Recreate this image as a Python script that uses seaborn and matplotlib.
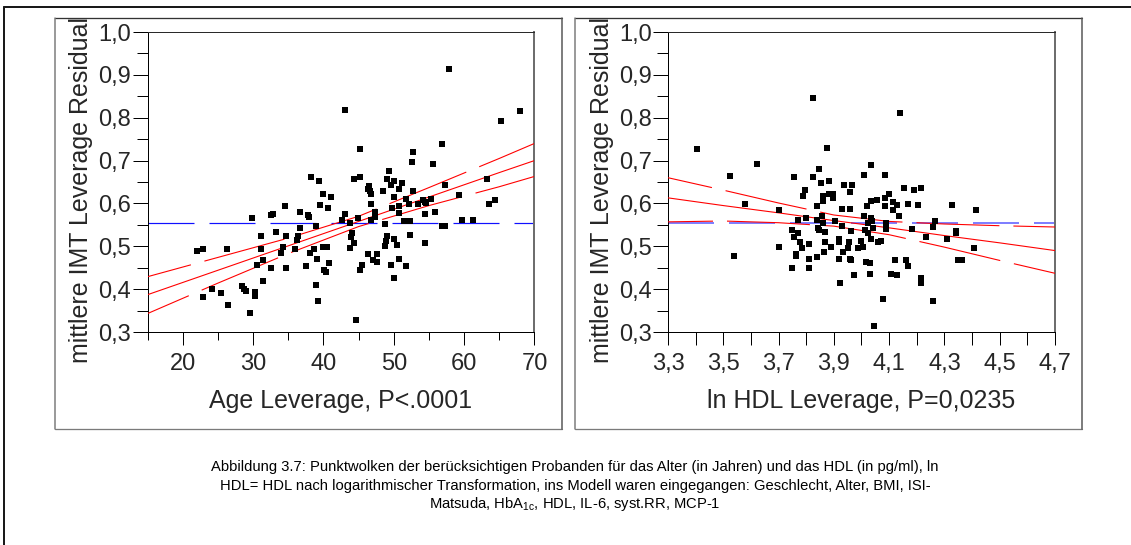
import numpy as np
import pandas as pd
import seaborn as sns
import matplotlib
matplotlib.use("Agg")
import matplotlib.pyplot as plt
from matplotlib.lines import Line2D
from matplotlib.ticker import FixedLocator, MultipleLocator

# ---------------- data ----------------
age_x = [22.1, 22.9, 22.9, 24.1, 25.4, 26.3, 26.5, 28.4, 28.7, 29.0, 29.5, 29.8, 30.3, 30.3,
         30.6, 31.2, 31.2, 31.4, 31.4, 32.5, 32.8, 32.5, 33.3, 34.5, 34.7, 34.7, 34.0, 34.2,
         35.9, 36.2, 36.4, 36.7, 36.7, 37.5, 37.8, 37.9, 38.3, 38.1, 38.6, 38.9, 39.1, 38.9,
         39.2, 39.4, 39.5, 40.0, 40.0, 40.5, 40.1, 40.3, 40.7, 40.8, 41.1,
         42.6, 43.0, 43.0, 43.8, 43.8, 43.9, 44.1, 44.4, 44.4, 44.6, 44.9, 45.2, 45.2, 45.2,
         45.5, 46.3, 46.3, 46.5, 46.6, 46.8, 46.8, 46.8, 47.1, 47.3, 47.3, 47.6, 47.6, 48.5,
         48.8, 48.8, 48.9, 49.0, 49.3, 49.1, 49.6, 50.1, 49.6, 49.8, 50.1, 50.1, 50.4, 50.1,
         50.7, 50.7, 50.8, 50.7, 51.2, 51.5, 52.3, 51.8, 52.1, 51.8, 52.3, 52.6, 52.8, 52.8,
         53.4, 54.2, 54.4, 54.6, 54.5, 54.5, 55.3, 55.6, 55.8, 56.9, 56.9, 57.3, 57.3, 57.8,
         59.2, 59.7, 61.3, 63.3, 63.6, 64.4, 65.2, 67.9]
age_y = [0.490, 0.494, 0.382, 0.400, 0.390, 0.494, 0.363, 0.407, 0.400, 0.395, 0.345, 0.566, 0.393, 0.385,
         0.457, 0.525, 0.494, 0.467, 0.418, 0.572, 0.576, 0.449, 0.534, 0.593, 0.525, 0.449, 0.485, 0.499,
         0.494, 0.514, 0.523, 0.543, 0.580, 0.453, 0.573, 0.569, 0.662, 0.485, 0.494, 0.548, 0.471, 0.409,
         0.373, 0.652, 0.597, 0.621, 0.499, 0.499, 0.445, 0.440, 0.589, 0.462, 0.615,
         0.562, 0.575, 0.819, 0.495, 0.555, 0.522, 0.531, 0.508, 0.657, 0.327, 0.566, 0.728, 0.661, 0.444,
         0.457, 0.481, 0.633, 0.640, 0.629, 0.621, 0.598, 0.562, 0.469, 0.580, 0.569, 0.481, 0.463, 0.629,
         0.553, 0.500, 0.512, 0.524, 0.675, 0.656, 0.643, 0.652, 0.457, 0.590, 0.615, 0.516, 0.503, 0.426,
         0.634, 0.594, 0.578, 0.471, 0.648, 0.558, 0.558, 0.611, 0.598, 0.453, 0.526, 0.697, 0.719, 0.630,
         0.598, 0.607, 0.604, 0.601, 0.576, 0.508, 0.611, 0.693, 0.580, 0.738, 0.548, 0.548, 0.643, 0.914,
         0.620, 0.562, 0.562, 0.657, 0.598, 0.607, 0.792, 0.815]

hdl_x = [3.405, 3.524, 3.539, 3.580, 3.622, 3.700, 3.700, 3.749, 3.749, 3.756, 3.756, 3.762, 3.762,
         3.772, 3.770, 3.776, 3.786, 3.790, 3.797, 3.799, 3.811, 3.811, 3.811, 3.826, 3.826, 3.840,
         3.840, 3.843, 3.846, 3.848, 3.855, 3.856, 3.860, 3.865, 3.860, 3.862, 3.840, 3.868, 3.868,
         3.876, 3.882, 3.896, 3.883, 3.889, 3.896, 3.903, 3.917, 3.919, 3.919, 3.924, 3.930, 3.931,
         3.937, 3.934, 3.950, 3.954, 3.959, 3.959, 3.961, 3.960, 3.961, 3.966, 3.973, 3.987, 4.000,
         4.006, 4.010, 4.010, 4.012, 4.016, 4.020, 4.024, 4.025, 4.029, 4.029, 4.036, 4.034, 4.036,
         4.038, 4.040, 4.034, 4.046, 4.056, 4.060,
         4.070, 4.077, 4.086, 4.085, 4.085, 4.087, 4.087, 4.100, 4.107, 4.113, 4.113, 4.120, 4.127,
         4.127, 4.135, 4.141, 4.155, 4.161, 4.168, 4.168, 4.182, 4.190, 4.203, 4.217, 4.217, 4.217,
         4.232, 4.260, 4.260, 4.267, 4.308, 4.329, 4.343, 4.343, 4.350, 4.364, 4.407, 4.413]
hdl_y = [0.726, 0.663, 0.477, 0.598, 0.693, 0.585, 0.499, 0.537, 0.450, 0.662, 0.522, 0.482, 0.478,
         0.531, 0.562, 0.510, 0.495, 0.617, 0.631, 0.567, 0.506, 0.471, 0.450, 0.847, 0.662, 0.594,
         0.562, 0.543, 0.539, 0.680, 0.648, 0.570, 0.555, 0.486, 0.617, 0.605, 0.476, 0.510, 0.534,
         0.730, 0.621, 0.621, 0.653, 0.499, 0.612, 0.558, 0.516, 0.510, 0.471, 0.414, 0.587, 0.547,
         0.644, 0.486, 0.495, 0.510, 0.627, 0.587, 0.535, 0.471, 0.467, 0.644, 0.432, 0.495, 0.513,
         0.499, 0.667, 0.570, 0.539, 0.464, 0.594, 0.531, 0.555, 0.460, 0.436, 0.689, 0.605, 0.566,
         0.559, 0.543, 0.516, 0.315, 0.609, 0.510,
         0.513, 0.377, 0.666, 0.613, 0.594, 0.555, 0.541, 0.621, 0.436, 0.603, 0.585, 0.467, 0.597,
         0.432, 0.570, 0.811, 0.635, 0.467, 0.599, 0.453, 0.541, 0.631, 0.597, 0.635, 0.426, 0.414,
         0.522, 0.545, 0.373, 0.558, 0.518, 0.597, 0.535, 0.531, 0.468, 0.468, 0.495, 0.585]

# fitted line and confidence curves
age_line_x = [15, 25, 35, 45, 55, 65, 70]
age_fit = [0.387, 0.444, 0.501, 0.558, 0.615, 0.672, 0.700]
age_upper = [0.429, 0.474, 0.519, 0.570, 0.637, 0.705, 0.740]
age_lower = [0.343, 0.414, 0.483, 0.546, 0.595, 0.639, 0.663]
age_mean = 0.555

hdl_line_x = [3.3, 3.5, 3.7, 3.9, 4.1, 4.3, 4.5, 4.7]
hdl_fit = [0.613, 0.595, 0.578, 0.560, 0.543, 0.525, 0.508, 0.490]
hdl_upper = [0.660, 0.631, 0.601, 0.573, 0.558, 0.552, 0.548, 0.545]
hdl_lower = [0.557, 0.559, 0.555, 0.547, 0.527, 0.498, 0.467, 0.437]
hdl_mean = 0.555

y_ticks = [0.3, 0.4, 0.5, 0.6, 0.7, 0.8, 0.9, 1.0]
y_ticklabels = ["0,3", "0,4", "0,5", "0,6", "0,7", "0,8", "0,9", "1,0"]
age_ticks = [20, 30, 40, 50, 60, 70]
age_ticklabels = ["20", "30", "40", "50", "60", "70"]
hdl_ticks = [3.3, 3.5, 3.7, 3.9, 4.1, 4.3, 4.5, 4.7]
hdl_ticklabels = ["3,3", "3,5", "3,7", "3,9", "4,1", "4,3", "4,5", "4,7"]

y_label = "mittlere IMT Leverage Residual"
age_label = "Age Leverage, P<.0001"
hdl_label = "ln HDL Leverage, P=0,0235"
caption = [
    "Abbildung 3.7: Punktwolken der berücksichtigen Probanden für das Alter (in Jahren) und das HDL (in pg/ml), ln",
    "HDL= HDL nach logarithmischer Transformation, ins Modell waren eingegangen: Geschlecht, Alter, BMI, ISI-",
    "Matsuda, HbA$_{\\mathregular{1c}}$, HDL, IL-6, syst.RR, MCP-1",
]

# ---------------- style ----------------
sns.set_style("white")
plt.rcParams["font.family"] = ["Liberation Sans", "DejaVu Sans"]
plt.rcParams["lines.scale_dashes"] = False
plt.rcParams["mathtext.default"] = "regular"

W, H = 1131, 545
fig = plt.figure(figsize=(W / 100, H / 100), dpi=100)
fig.patch.set_facecolor("white")

def fx(px):
    return px / W

def fy(py):
    return 1 - py / H

PX = 0.72  # points per pixel

# outer frame (left and top edges visible)
fig.add_artist(Line2D([fx(3.5), fx(3.5)], [fy(6.5), fy(H + 5)], color="#1a1a1a", lw=2 * PX))
fig.add_artist(Line2D([fx(3.5), fx(W + 5)], [fy(6.5), fy(6.5)], color="#1a1a1a", lw=2 * PX))

# panel boxes
for (l, r) in [(54.5, 562), (574.5, 1082)]:
    t, b = 17.5, 429
    fig.add_artist(Line2D([fx(l), fx(r)], [fy(t), fy(t)], color="#333333", lw=1.3 * PX))
    fig.add_artist(Line2D([fx(l), fx(r)], [fy(b), fy(b)], color="#7a7a7a", lw=1.3 * PX))
    fig.add_artist(Line2D([fx(l), fx(l)], [fy(t), fy(b)], color="#7a7a7a", lw=1.5 * PX))
    fig.add_artist(Line2D([fx(r), fx(r)], [fy(t), fy(b)], color="#555555", lw=1.5 * PX))

ax1 = fig.add_axes([fx(147.5), fy(332), (534.5 - 147.5) / W, 300 / H])
ax2 = fig.add_axes([fx(668), fy(332), (1055 - 668) / W, 300 / H])

blue_dash = (0, (46 * PX, 15 * PX))
ci_dash = (38 * PX, (83 * PX, 14 * PX))

panels = [
    (ax1, age_x, age_y, age_line_x, age_fit, age_upper, age_lower, age_mean, "#1010ff", 1.2,
     (15, 70), age_ticks, age_ticklabels, age_label),
    (ax2, hdl_x, hdl_y, hdl_line_x, hdl_fit, hdl_upper, hdl_lower, hdl_mean, "#7f7fff", 2.0,
     (3.3, 4.7), hdl_ticks, hdl_ticklabels, hdl_label),
]

for (ax, xs, ys, lx, lfit, lup, llo, lmean, bcol, blw, xlim, xt, xtl, xlab) in panels:
    df = pd.DataFrame({"x": xs, "y": ys})
    ldf = pd.DataFrame({"x": lx, "fit": lfit, "up": lup, "lo": llo, "mean": [lmean] * len(lx)})
    ax.set_xlim(*xlim)
    ax.set_ylim(0.3, 1.0)
    sns.lineplot(data=ldf, x="x", y="mean", ax=ax, color=bcol, lw=blw * PX, linestyle=blue_dash, zorder=2)
    sns.lineplot(data=ldf, x="x", y="fit", ax=ax, color="#ff0000", lw=1.1 * PX, zorder=3)
    sns.lineplot(data=ldf, x="x", y="up", ax=ax, color="#ff0000", lw=1.1 * PX, linestyle=ci_dash, zorder=3)
    sns.lineplot(data=ldf, x="x", y="lo", ax=ax, color="#ff0000", lw=1.1 * PX, linestyle=ci_dash, zorder=3)
    sns.scatterplot(data=df, x="x", y="y", ax=ax, marker="s", s=19, color="black",
                    linewidth=0, zorder=4)

    ax.set_yticks(y_ticks)
    ax.set_yticklabels(y_ticklabels)
    ax.yaxis.set_minor_locator(MultipleLocator(0.05))
    ax.set_xticks(xt)
    ax.set_xticklabels(xtl)
    if ax is ax1:
        ax.xaxis.set_minor_locator(FixedLocator([15, 25, 35, 45, 55, 65]))
        ax.tick_params(axis="x", which="major", length=13 * PX, width=1 * PX, pad=6, labelsize=17)
        ax.tick_params(axis="x", which="minor", length=8 * PX, width=1 * PX)
    else:
        ax.xaxis.set_minor_locator(FixedLocator([3.4, 3.6, 3.8, 4.0, 4.2, 4.4, 4.6]))
        ax.tick_params(axis="x", which="major", length=13 * PX, width=1 * PX, pad=6, labelsize=17)
        ax.tick_params(axis="x", which="minor", length=13 * PX, width=1 * PX)
    ax.tick_params(axis="y", which="major", length=15 * PX, width=1 * PX, pad=1, labelsize=17)
    ax.tick_params(axis="y", which="minor", length=11 * PX, width=1 * PX)
    ax.tick_params(which="both", direction="out", color="black", bottom=True, left=True)

    ax.set_ylabel(y_label, fontsize=18)
    ax.yaxis.set_label_coords(-0.14, 0.473)
    ax.set_xlabel(xlab, fontsize=18, va="top")
    ax.xaxis.set_label_coords(0.5, -0.19)

    for s in ["left", "bottom"]:
        ax.spines[s].set_color("black")
        ax.spines[s].set_linewidth(1 * PX)
    ax.spines["top"].set_color("#2a2a2a")
    ax.spines["top"].set_linewidth(1 * PX)
    ax.spines["right"].set_color("#6e6e6e")
    ax.spines["right"].set_linewidth(2 * PX)
    for s in ax.spines.values():
        s.set_visible(True)
    ax.set_facecolor("white")
    ax.grid(False)

cap_font = ["Liberation Sans", "DejaVu Sans"]
for i, line in enumerate(caption):
    fig.text(fx(575), fy(471 + 18.6 * i), line, ha="center", va="baseline",
             fontsize=10.6, family=cap_font, color="black")

fig.savefig("out.png", dpi=100, facecolor="white")
